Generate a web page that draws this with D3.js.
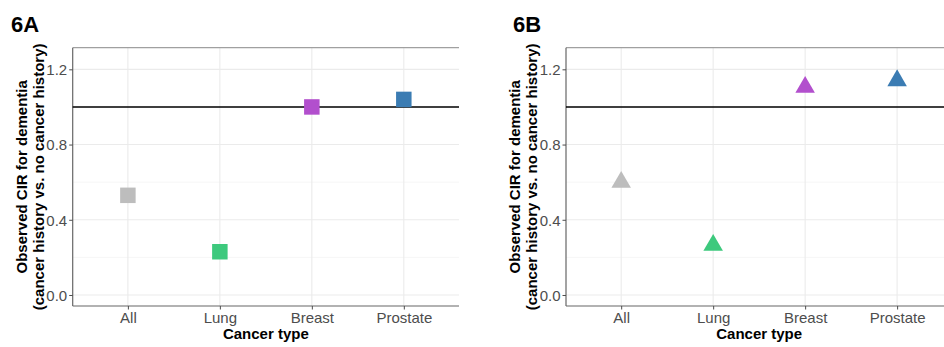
<!DOCTYPE html>
<html>
<head>
<meta charset="utf-8">
<script src="https://cdn.jsdelivr.net/npm/d3@7"></script>
<style>
  body { margin: 0; background: #fff; }
  svg { display: block; font-family: "Liberation Sans", Arial, sans-serif; }
  .tick text { fill: #4d4d4d; font-size: 15px; }
  .tick line { stroke: #4d4d4d; }
  .domain { display: none; }
</style>
</head>
<body>
<svg id="chart" width="944" height="347"></svg>
<script>
// categories and values
const cancerTypes = ['All', 'Lung', 'Breast', 'Prostate']
const colours = ['#bdbdbd', '#3dc97d', '#b24fcd', '#3b7cb3']
const cirA = [0.53, 0.23, 1.00, 1.04]
const cirB = [0.60, 0.265, 1.105, 1.14]
const yTicks = [0.0, 0.4, 0.8, 1.2]
const yMinor = [0.2, 0.6, 1.0]
const refLine = 1.0

const svg = d3.select('#chart')

const height = { top: 47.7, bottom: 306 }
const plotWidth = 386.3

const y = d3.scaleLinear()
  .domain([-0.0585, 1.315])
  .range([height.bottom, height.top])

function panel(label, left, labelX, values, shape) {
  const right = left + plotWidth
  const x = d3.scalePoint()
    .domain(cancerTypes)
    .range([left, right])
    .padding(0.6)

  const g = svg.append('g')

  // grid
  g.selectAll('.minor')
    .data(yMinor)
    .enter().append('line')
    .attr('x1', left).attr('x2', right)
    .attr('y1', d => y(d)).attr('y2', d => y(d))
    .attr('stroke', '#f4f4f4').attr('stroke-width', 0.8)

  g.selectAll('.major')
    .data(yTicks)
    .enter().append('line')
    .attr('x1', left).attr('x2', right)
    .attr('y1', d => y(d)).attr('y2', d => y(d))
    .attr('stroke', '#ebebeb').attr('stroke-width', 1.1)

  g.selectAll('.vgrid')
    .data(cancerTypes)
    .enter().append('line')
    .attr('x1', d => x(d)).attr('x2', d => x(d))
    .attr('y1', height.top).attr('y2', height.bottom)
    .attr('stroke', '#ebebeb').attr('stroke-width', 1.1)

  // top border and axis lines
  g.append('line')
    .attr('x1', left).attr('x2', right)
    .attr('y1', height.top).attr('y2', height.top)
    .attr('stroke', '#a0a0a0').attr('stroke-width', 1.2)

  g.append('line')
    .attr('x1', left).attr('x2', left)
    .attr('y1', height.top).attr('y2', height.bottom)
    .attr('stroke', '#666').attr('stroke-width', 1.2)

  g.append('line')
    .attr('x1', left).attr('x2', right)
    .attr('y1', height.bottom).attr('y2', height.bottom)
    .attr('stroke', '#666').attr('stroke-width', 1.2)

  // reference line
  g.append('line')
    .attr('x1', left).attr('x2', right)
    .attr('y1', y(refLine)).attr('y2', y(refLine))
    .attr('stroke', '#000').attr('stroke-width', 1.6)

  // axes
  g.append('g')
    .attr('transform', 'translate(' + left + ',0)')
    .call(d3.axisLeft(y).tickValues(yTicks).tickFormat(d3.format('.1f')).tickSize(3.5).tickPadding(2))
    .call(a => a.selectAll('text').attr('dy', '0.36em'))

  g.append('g')
    .attr('transform', 'translate(0,' + height.bottom + ')')
    .call(d3.axisBottom(x).tickSize(3.5).tickPadding(2.5))

  // points
  const sym = shape === 'square'
    ? d3.symbol().type(d3.symbolSquare).size(240)
    : d3.symbol().type(d3.symbolTriangle).size(165)

  g.selectAll('.pt')
    .data(values)
    .enter().append('path')
    .attr('d', sym)
    .attr('transform', (d, i) => 'translate(' + x(cancerTypes[i]) + ',' + y(d) + ')')
    .attr('fill', (d, i) => colours[i])

  // titles
  g.append('text')
    .attr('x', (left + right) / 2)
    .attr('y', 338.5)
    .attr('text-anchor', 'middle')
    .attr('font-size', 15)
    .attr('font-weight', 'bold')
    .attr('fill', '#000')
    .text('Cancer type')

  const cy = (height.top + height.bottom) / 2
  const titleX = left - 29
  const yt = g.append('text')
    .attr('transform', 'translate(' + titleX + ',' + cy + ') rotate(-90)')
    .attr('text-anchor', 'middle')
    .attr('font-size', 15)
    .attr('font-weight', 'bold')
    .attr('fill', '#000')
  yt.append('tspan').attr('x', 0).attr('y', -17).text('Observed CIR for dementia')
  yt.append('tspan').attr('x', 0).attr('y', 0).text('(cancer history vs. no cancer history)')

  svg.append('text')
    .attr('x', labelX)
    .attr('y', 32)
    .attr('font-size', 22)
    .attr('font-weight', 'bold')
    .attr('fill', '#000')
    .text(label)
}

panel('6A', 72.7, 11, cirA, 'square')
panel('6B', 566, 513, cirB, 'triangle')
</script>
</body>
</html>
